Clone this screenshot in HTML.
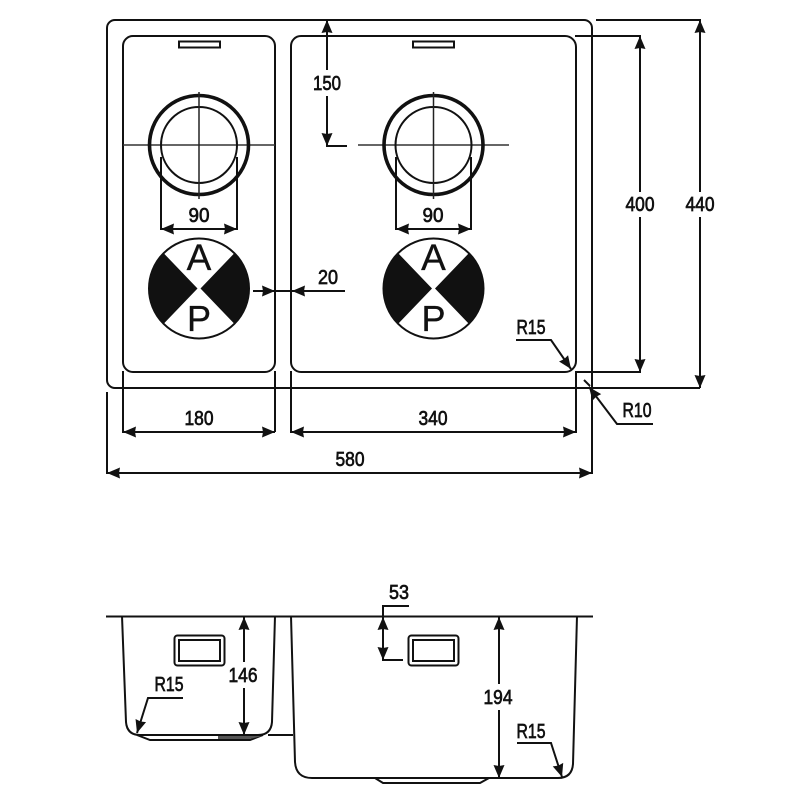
<!DOCTYPE html>
<html><head><meta charset="utf-8"><style>
html,body{margin:0;padding:0;background:#fff}
svg{display:block;filter:blur(.35px)}
.d text{font-family:"Liberation Sans",sans-serif;font-size:20px;fill:#111;text-anchor:middle;stroke:#111;stroke-width:.7}
.ap text{font-family:"Liberation Sans",sans-serif;fill:#111;text-anchor:middle;stroke:#111;stroke-width:.3}
</style></head><body>
<svg width="800" height="800" viewBox="0 0 800 800" xmlns="http://www.w3.org/2000/svg">
<defs>
<g id="c">
<circle r="49.500" fill="none" stroke="#111" stroke-width="3.6"/>
<circle r="38" fill="none" stroke="#111" stroke-width="2"/>
<path d="M0-53V54" stroke="#222" stroke-width="1.5" fill="none"/>
</g>
<g id="ap">
<circle r="50" fill="#fff" stroke="#111" stroke-width="2"/>
<path d="M-1.5 0L-35.3-35.3A50 50 0 0 0-35.3 35.3Z M1.5 0L35.3-35.3A50 50 0 0 1 35.3 35.3Z" fill="#111"/>
</g>
<path id="ar" d="M0 0L-13-5.500L-12 0L-13 5.500Z" fill="#111"/>
</defs>
<g fill="none" stroke="#111" stroke-width="2">
<!-- outer -->
<path d="M592 388V28A8 8 0 0 0 584 20H115A8 8 0 0 0 107 28V380A8 8 0 0 0 115 388H700" />
<!-- bowls -->
<path d="M123 46A10 10 0 0 1 133 36H265A10 10 0 0 1 275 46V362A10 10 0 0 1 265 372H133A10 10 0 0 1 123 362Z"/>
<path d="M291 362V46A10 10 0 0 1 301 36H565A11 11 0 0 1 576 47V361A11 11 0 0 1 565 372H301A10 10 0 0 1 291 362Z"/>
<rect x="179" y="41.500" width="41" height="6"/>
<rect x="413" y="41.500" width="41" height="6"/>
<!-- Dimension lines -->
<path d="M123 371V432H275M275 371V432M291 371V432H576V372H640V217M640 192V36H575M592 388V473H107V392M596 20H700V192M700 217V388"/>
<path d="M327 20V70M327 96V146H347"/>
<path d="M161 157V229H237V157M396 157V229H471V157"/>
<path d="M253 291H345"/>
<path d="M516 340H551L571 369M653 424H617L589 387M584 380L590 386"/>
<!-- crosshair -->
<path d="M123 145H275M358 145H509" stroke="#333" stroke-width="1.500"/>
</g>
<use href="#c" x="199" y="145"/>
<use href="#c" x="433.500" y="145"/>
<path d="M161 157V200M237 157V200M396 157V200M471 157V200" stroke="#111" stroke-width="2" fill="none"/>
<use href="#ap" x="199" y="288.500"/>
<use href="#ap" x="433.500" y="288.500"/>
<g class="ap">
<text x="199" y="270" font-size="37">A</text><text x="199" y="331" font-size="36">P</text>
<text x="433.500" y="270" font-size="37">A</text><text x="433.500" y="331" font-size="36">P</text>
</g>
<!-- arrows -->
<use href="#ar" transform="translate(123 432) rotate(180)"/>
<use href="#ar" transform="translate(275 432)"/>
<use href="#ar" transform="translate(291 432) rotate(180)"/>
<use href="#ar" transform="translate(576 432)"/>
<use href="#ar" transform="translate(107 473) rotate(180)"/>
<use href="#ar" transform="translate(592 473)"/>
<use href="#ar" transform="translate(161 229) rotate(180)"/>
<use href="#ar" transform="translate(237 229)"/>
<use href="#ar" transform="translate(396 229) rotate(180)"/>
<use href="#ar" transform="translate(471 229)"/>
<use href="#ar" transform="translate(275 291)"/>
<use href="#ar" transform="translate(292 291) rotate(180)"/>
<use href="#ar" transform="translate(327 20) rotate(-90)"/>
<use href="#ar" transform="translate(327 146) rotate(90)"/>
<use href="#ar" transform="translate(640 36) rotate(-90)"/>
<use href="#ar" transform="translate(640 372) rotate(90)"/>
<use href="#ar" transform="translate(700 20) rotate(-90)"/>
<use href="#ar" transform="translate(700 388) rotate(90)"/>
<use href="#ar" transform="translate(571 369) rotate(55)"/>
<use href="#ar" transform="translate(589 387) rotate(233)"/>
<!-- side view -->
<g fill="none" stroke="#111" stroke-width="2">
<path d="M106 616.500H593"/>
<path d="M122 616L126 722Q127 735 140 735H258Q271 735 272 722L275 616"/>
<path d="M137 735L150 740H250L263 735"/>
<path d="M268 735H293"/>
<path d="M291 616L295 762Q296 778 312 778H558Q572 778 573 764L577 616"/>
<path d="M375 778L383 783H480L489 778"/>
<rect x="174.500" y="635.500" width="50" height="30" rx="3"/>
<rect x="179" y="640" width="41" height="21"/>
<rect x="408.500" y="635.500" width="50" height="30" rx="3"/>
<rect x="413" y="640" width="41" height="21"/>
<path d="M409 606H383V660H403"/>
<path d="M244 617V662M244 688V735"/>
<path d="M499 617V684M499 710V778"/>
<path d="M183 698H148L137 733"/>
<path d="M517 743H551L562 777"/>
</g>
<path d="M218 736H250L262 736L250 739H218Z" fill="#555"/>
<use href="#ar" transform="translate(383 617) rotate(-90)"/>
<use href="#ar" transform="translate(383 660) rotate(90)"/>
<use href="#ar" transform="translate(244 617) rotate(-90)"/>
<use href="#ar" transform="translate(244 735) rotate(90)"/>
<use href="#ar" transform="translate(499 617) rotate(-90)"/>
<use href="#ar" transform="translate(499 778) rotate(90)"/>
<use href="#ar" transform="translate(137 733) rotate(107)"/>
<use href="#ar" transform="translate(562 777) rotate(72)"/>
<!-- labels -->
<g class="d">
<text x="327" y="90" textLength="28" lengthAdjust="spacingAndGlyphs">150</text>
<text x="199" y="222" textLength="21" lengthAdjust="spacingAndGlyphs">90</text>
<text x="433" y="222" textLength="21" lengthAdjust="spacingAndGlyphs">90</text>
<text x="640" y="211" textLength="29" lengthAdjust="spacingAndGlyphs">400</text>
<text x="700" y="211" textLength="29" lengthAdjust="spacingAndGlyphs">440</text>
<text x="328" y="284" textLength="20" lengthAdjust="spacingAndGlyphs">20</text>
<text x="531" y="334" textLength="29" lengthAdjust="spacingAndGlyphs">R15</text>
<text x="637" y="417" textLength="29" lengthAdjust="spacingAndGlyphs">R10</text>
<text x="199" y="425" textLength="29" lengthAdjust="spacingAndGlyphs">180</text>
<text x="433" y="425" textLength="29" lengthAdjust="spacingAndGlyphs">340</text>
<text x="350" y="466" textLength="29" lengthAdjust="spacingAndGlyphs">580</text>
<text x="399" y="599" textLength="20" lengthAdjust="spacingAndGlyphs">53</text>
<text x="243" y="682" textLength="29" lengthAdjust="spacingAndGlyphs">146</text>
<text x="169" y="691" textLength="29" lengthAdjust="spacingAndGlyphs">R15</text>
<text x="498" y="704" textLength="29" lengthAdjust="spacingAndGlyphs">194</text>
<text x="531" y="738" textLength="29" lengthAdjust="spacingAndGlyphs">R15</text>
</g>
</svg>
</body></html>
